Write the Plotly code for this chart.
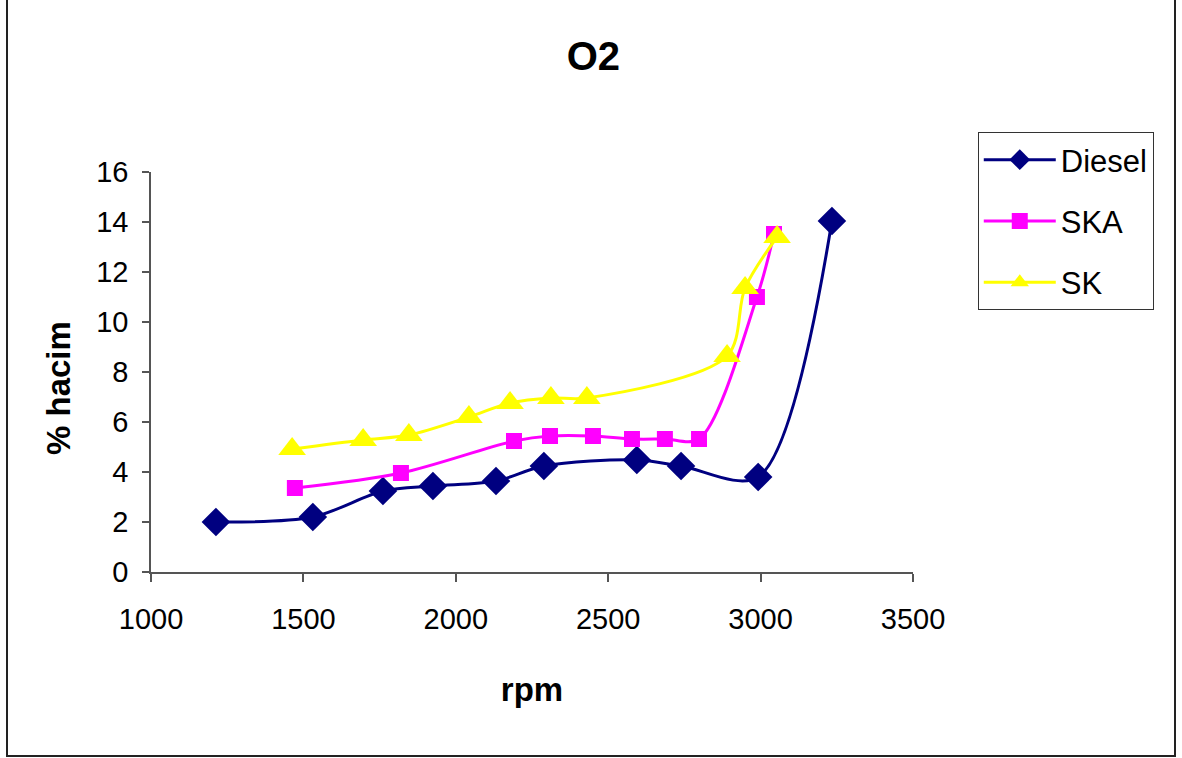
import plotly.graph_objects as go

# Data
diesel_rpm = [1213, 1531, 1761, 1925, 2132, 2289, 2594, 2739, 2992, 3234]
diesel_o2 = [2.0, 2.2, 3.24, 3.44, 3.64, 4.24, 4.48, 4.24, 3.8, 14.04]

ska_rpm = [1472, 1820, 2191, 2309, 2450, 2578, 2686, 2798, 2988, 3044]
ska_o2 = [3.36, 3.96, 5.24, 5.44, 5.44, 5.32, 5.32, 5.32, 11.0, 13.52]

sk_rpm = [1463, 1696, 1846, 2043, 2178, 2312, 2430, 2890, 2949, 3054]
sk_o2 = [4.92, 5.28, 5.48, 6.2, 6.76, 6.96, 6.96, 8.64, 11.36, 13.4]

x_ticks = [1000, 1500, 2000, 2500, 3000, 3500]
y_ticks = [0, 2, 4, 6, 8, 10, 12, 14, 16]

FONT = "Liberation Sans, Arial, sans-serif"

fig = go.Figure()
fig.add_trace(go.Scatter(
    x=diesel_rpm, y=diesel_o2, name="Diesel", mode="lines+markers",
    line=dict(color="#000080", width=3, shape="spline", smoothing=0.9),
    marker=dict(symbol="diamond", size=22, color="#000080"),
    legendgroup="a"))
fig.add_trace(go.Scatter(
    x=ska_rpm, y=ska_o2, name="SKA", mode="lines+markers",
    line=dict(color="#FF00FF", width=3, shape="spline", smoothing=0.9),
    marker=dict(symbol="square", size=16, color="#FF00FF"),
    legendgroup="b"))
fig.add_trace(go.Scatter(
    x=sk_rpm, y=sk_o2, name="SK", mode="lines+markers",
    line=dict(color="#FFFF00", width=3, shape="spline", smoothing=0.9),
    marker=dict(symbol="triangle-up", size=24, color="#FFFF00"),
    legendgroup="c"))

fig.update_layout(
    width=1182, height=758,
    margin=dict(l=151, r=269, t=172, b=186),
    paper_bgcolor="white", plot_bgcolor="white",
    font=dict(family=FONT, color="black", size=29),
    title=dict(text="<b>O2</b>", x=0.502, xref="container", xanchor="center",
               y=1 - 56 / 758, yref="container", yanchor="middle",
               font=dict(size=40, family=FONT)),
    showlegend=True,
    legend=dict(x=1.085, y=1.1, xanchor="left", yanchor="top",
                bordercolor="#333333", borderwidth=1, bgcolor="white",
                font=dict(size=31, family=FONT), tracegroupgap=18,
                itemwidth=72),
    xaxis=dict(range=[1000, 3500], tickvals=x_ticks, showgrid=False, zeroline=False,
               showline=True, linecolor="#555555", linewidth=1.5,
               ticks="outside", ticklen=8, tickcolor="#555555", tickwidth=1.5,
               ticklabelstandoff=12,
               title=dict(text="<b>rpm</b>", font=dict(size=33), standoff=44)),
    yaxis=dict(range=[0, 16], tickvals=y_ticks, showgrid=False, zeroline=False,
               showline=True, linecolor="#555555", linewidth=1.5,
               ticks="outside", ticklen=7, tickcolor="#555555", tickwidth=1.5,
               ticklabelstandoff=8),
    annotations=[dict(text="<b>% hacim</b>", textangle=-90, showarrow=False,
                      xref="paper", yref="paper",
                      x=(58 - 151) / 762, y=(572 - 388) / 400,
                      xanchor="center", yanchor="middle",
                      font=dict(size=33, family=FONT))],
    shapes=[dict(type="rect", xref="paper", yref="paper",
                 x0=(7 - 151) / 762, x1=(1175 - 151) / 762,
                 y0=(572 - 756) / 400, y1=(572 + 10) / 400,
                 line=dict(color="#222222", width=2), fillcolor="rgba(0,0,0,0)",
                 layer="below")],
)

fig.write_html("out.html")
